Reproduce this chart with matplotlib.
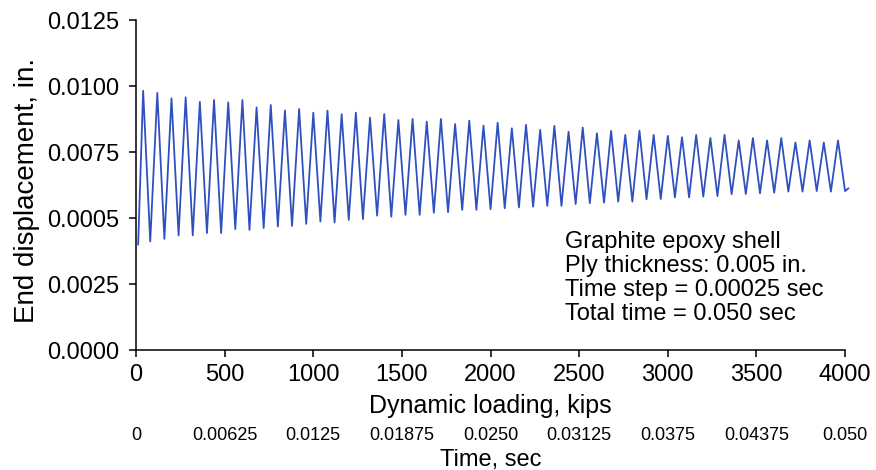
import numpy as np
import matplotlib
matplotlib.use("Agg")
import matplotlib.pyplot as plt

plt.rcParams["font.family"] = ["Liberation Sans", "DejaVu Sans"]

# extrema of the end displacement (in.), one peak and one trough per cycle
peaks = [0.00982, 0.00974, 0.00953, 0.00957, 0.00940, 0.00947, 0.00938, 0.00947, 0.00919, 0.00928,
         0.00907, 0.00913, 0.00899, 0.00907, 0.00893, 0.00899, 0.00880,
         0.00894, 0.00871, 0.00875, 0.00865, 0.00875, 0.00856, 0.00869, 0.00850, 0.00861, 0.00840,
         0.00853, 0.00834, 0.00849, 0.00827, 0.00843, 0.00821, 0.00830,
         0.00815, 0.00831, 0.00815, 0.00811, 0.00806, 0.00815, 0.00803, 0.00815, 0.00794, 0.00803,
         0.00794, 0.00803, 0.00786, 0.00794, 0.00786, 0.00794]
troughs = [0.00411, 0.00421, 0.00434, 0.00434, 0.00443, 0.00443, 0.00458, 0.00455, 0.00462, 0.00468,
           0.00470, 0.00478, 0.00487, 0.00483, 0.00493, 0.00496, 0.00509,
           0.00505, 0.00512, 0.00512, 0.00520, 0.00522, 0.00531, 0.00531, 0.00533, 0.00537, 0.00540,
           0.00543, 0.00546, 0.00546, 0.00553, 0.00556, 0.00558, 0.00562,
           0.00562, 0.00571, 0.00572, 0.00578, 0.00578, 0.00581, 0.00583, 0.00590, 0.00591, 0.00594,
           0.00596, 0.00600, 0.00600, 0.00602, 0.00600, 0.00602]
start_point = (12, 0.00400)
end_point = (4018, 0.00612)
period = 80  # kips per cycle (0.001 sec)

y_ticks = [0.0, 0.0025, 0.005, 0.0075, 0.0100, 0.0125]
y_labels = ["0.0000", "0.0025", "0.0005", "0.0075", "0.0100", "0.0125"]
x_ticks = [0, 500, 1000, 1500, 2000, 2500, 3000, 3500, 4000]
time_ticks = [0, 0.00625, 0.0125, 0.01875, 0.025, 0.03125, 0.0375, 0.04375, 0.05]
time_labels = ["0", "0.00625", "0.0125", "0.01875", "0.0250", "0.03125", "0.0375", "0.04375", "0.050"]
notes = ["Graphite epoxy shell", "Ply thickness: 0.005 in.",
         "Time step = 0.00025 sec", "Total time = 0.050 sec"]

# build the trace: start, then peak/trough pairs, then the end
peak_x = period / 2 + period * np.arange(len(peaks))
trough_x = peak_x + period / 2
xs = [start_point[0]]
ys = [start_point[1]]
for px, py, tx, ty in zip(peak_x, peaks, trough_x, troughs):
    xs += [px, tx]
    ys += [py, ty]
xs.append(end_point[0])
ys.append(end_point[1])

fig = plt.figure(figsize=(8.76, 4.70), dpi=100)
ax = fig.add_axes([0.1553, 0.2553, 0.8094, 0.7021])
ax.plot(xs, ys, color="#3050c0", lw=1.3, clip_on=False, solid_joinstyle="round")

ax.set_xlim(0, 4000)
ax.set_ylim(0, 0.0125)
ax.set_xticks(x_ticks)
ax.set_yticks(y_ticks)
ax.set_yticklabels(y_labels)
ax.spines["top"].set_visible(False)
ax.spines["right"].set_visible(False)
for s in ["left", "bottom"]:
    ax.spines[s].set_linewidth(1.1)
ax.tick_params(axis="both", direction="out", length=5, width=1.1, labelsize=17)
ax.tick_params(axis="x", pad=5)
ax.tick_params(axis="y", pad=7)
ax.set_xlabel("Dynamic loading, kips", fontsize=18, labelpad=6)
fig.text(27 / 876, 0.5957, "End displacement, in.", rotation=90, fontsize=20,
         ha="center", va="center")

sec = ax.secondary_xaxis(-0.232, functions=(lambda k: k * 0.05 / 4000, lambda t: t * 4000 / 0.05))
sec.set_xticks(time_ticks)
sec.set_xticklabels(time_labels)
sec.spines["bottom"].set_visible(False)
sec.tick_params(length=0, labelsize=13, pad=0)
sec.set_xlabel("Time, sec", fontsize=17, labelpad=4)

ax.text(0.605, 0.362, "\n".join(notes), transform=ax.transAxes, fontsize=17,
        va="top", ha="left", linespacing=1.13)

fig.savefig("out.png", dpi=100)
